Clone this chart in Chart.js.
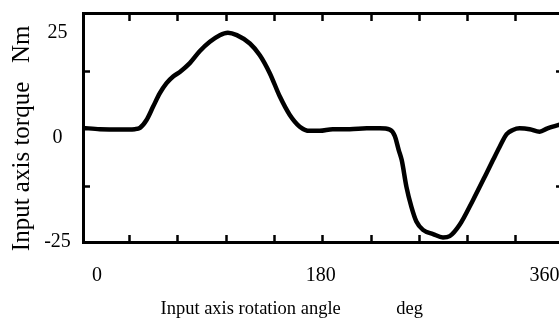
<!DOCTYPE html>
<html>
<head>
<meta charset="utf-8">
<script src="https://cdn.jsdelivr.net/npm/chart.js@4"></script>
<style>
  html, body { margin: 0; padding: 0; background: #fff; overflow: hidden; }
  #wrap { width: 565px; height: 320px; position: relative; }
</style>
</head>
<body>
<div id="wrap"><canvas id="c"></canvas></div>
<script>
// Input axis rotation angle (deg)
const angleDeg = [-11.2, 2.4, 18.5, 30.5, 34.6, 39.9, 45.2, 50.6, 56.0, 61.3, 66.7, 74.7, 82.8, 90.8, 98.8, 105.3, 112.5, 123.0, 131.0, 139.0, 147.1, 155.1, 163.1, 171.2, 179.2, 189.6, 203.3, 217.0, 227.4, 235.5, 239.5, 242.7, 245.1, 248.9, 252.9, 256.9, 262.2, 270.3, 278.3, 283.7, 291.7, 302.4, 313.2, 318.5, 323.9, 329.5, 334.5, 339.9, 348.0, 356.0, 362.4, 371.3, 374];
// Input axis torque (Nm)
const torqueNm = [2.3, 2.0, 1.9, 2.0, 2.3, 4.2, 7.4, 10.6, 13.0, 14.6, 15.7, 17.8, 20.7, 22.9, 24.5, 25.1, 24.5, 22.5, 19.7, 15.4, 9.8, 5.4, 2.6, 1.6, 1.6, 2.0, 2.0, 2.2, 2.2, 1.9, 0.4, -3.0, -5.4, -11.8, -16.6, -20.1, -22.1, -23.1, -23.9, -23.6, -20.9, -15.0, -8.6, -5.4, -2.2, 0.8, 1.8, 2.2, 2.0, 1.4, 2.2, 3.0, 3.2];

// Tick labels and unlabeled tick marks
const angleTickLabels = [0, 180, 360];
const angleTickMarks = [26.5, 65, 104.5, 143, 181.5, 220.5, 259.5, 298, 337];
const torqueTickLabels = [-25, 0, 25];
const torqueTickMarks = [-11.8, 15.9];

const angleRange = [-11.2, 374];
const torqueRange = [-25, 29.8];

const xTitle = '    Input axis rotation angle            deg';
const yTitle = 'Input axis torque   Nm  ';

const FONT = "'Liberation Serif', 'Times New Roman', serif";
const BLACK = '#000';
const NONE = 'rgba(0,0,0,0)';

function buildTicks(labels, marks) {
  return function (scale) {
    scale.ticks = labels.concat(marks).sort((a, b) => a - b).map(v => ({ value: v }));
  };
}
function markColor(labels) {
  return ctx => (ctx.tick && labels.includes(ctx.tick.value)) ? NONE : BLACK;
}
function fixSize(prop, size) {
  return function (s) {
    s[prop] = size;
    s.paddingTop = 0; s.paddingBottom = 0; s.paddingLeft = 0; s.paddingRight = 0;
  };
}

new Chart(document.getElementById('c'), {
  type: 'line',
  data: {
    datasets: [{
      data: angleDeg.map((a, i) => ({ x: a, y: torqueNm[i] })),
      borderColor: BLACK,
      borderWidth: 4.5,
      pointRadius: 0,
      fill: false,
      tension: 0.4,
      cubicInterpolationMode: 'monotone',
      borderCapStyle: 'round',
      borderJoinStyle: 'round'
    }]
  },
  options: {
    animation: false,
    responsive: true,
    maintainAspectRatio: false,
    devicePixelRatio: 1,
    layout: { padding: 0, autoPadding: false },
    plugins: {
      legend: { display: false },
      tooltip: { enabled: false },
      title: {
        display: true,
        position: 'bottom',
        fullSize: true,
        align: 'center',
        text: xTitle,
        color: BLACK,
        font: { family: FONT, size: 18.5, weight: 'normal' },
        padding: { top: 4, bottom: 0 }
      }
    },
    scales: {
      x: {
        type: 'linear',
        position: 'bottom',
        min: angleRange[0], max: angleRange[1],
        afterBuildTicks: buildTicks(angleTickLabels, angleTickMarks),
        afterFit: fixSize('height', 51.8),
        border: { display: true, color: BLACK, width: 3 },
        grid: { display: true, drawOnChartArea: false, drawTicks: true, tickLength: -7, tickWidth: 2.5, tickColor: markColor(angleTickLabels) },
        ticks: {
          autoSkip: false, maxRotation: 0, minRotation: 0, padding: 29, color: BLACK,
          font: { family: FONT, size: 20 },
          callback: v => angleTickLabels.includes(v) ? String(v) : ''
        }
      },
      x2: {
        type: 'linear', axis: 'x',
        position: 'top',
        min: angleRange[0], max: angleRange[1],
        afterBuildTicks: buildTicks([], angleTickMarks),
        afterFit: fixSize('height', 13),
        border: { display: true, color: BLACK, width: 3 },
        grid: { display: true, drawOnChartArea: false, drawTicks: true, tickLength: -8, tickWidth: 2.5, tickColor: BLACK },
        ticks: { display: false }
      },
      y: {
        type: 'linear',
        position: 'left',
        min: torqueRange[0], max: torqueRange[1],
        afterBuildTicks: buildTicks(torqueTickLabels, torqueTickMarks),
        afterFit: fixSize('width', 83),
        border: { display: true, color: BLACK, width: 3 },
        grid: { display: true, drawOnChartArea: false, drawTicks: true, tickLength: -7, tickWidth: 2.5, tickColor: markColor(torqueTickLabels) },
        ticks: {
          autoSkip: false, padding: 19.2, crossAlign: 'center', color: BLACK,
          font: { family: FONT, size: 20 },
          callback: v => torqueTickLabels.includes(v) ? String(v) : ''
        },
        title: {
          display: true,
          text: yTitle,
          align: 'end',
          color: BLACK,
          font: { family: FONT, size: 25, weight: 'normal' },
          padding: { top: 7.6, bottom: 0 }
        }
      },
      y2: {
        type: 'linear', axis: 'y',
        position: 'right',
        min: torqueRange[0], max: torqueRange[1],
        afterBuildTicks: buildTicks([], torqueTickMarks),
        afterFit: fixSize('width', 3),
        border: { display: true, color: BLACK, width: 3 },
        grid: { display: true, drawOnChartArea: false, drawTicks: true, tickLength: -6, tickWidth: 2.5, tickColor: BLACK },
        ticks: { display: false }
      }
    }
  }
});
</script>
</body>
</html>
